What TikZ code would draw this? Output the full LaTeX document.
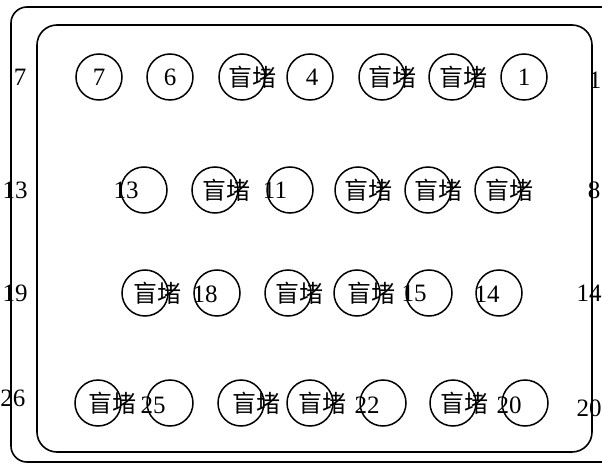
\documentclass[tikz,border=0pt]{standalone}
\usepackage{fontspec}
\setmainfont{Liberation Serif}
\newfontfamily\cjk{Noto Sans CJK SC}
\usepackage{tikz}

\tikzset{
  hole/.style={circle, draw, line width=1.5pt, minimum size=46pt, inner sep=0pt},
  num/.style={font=\fontsize{25}{25}\selectfont, inner sep=0pt},
  blind/.style={font=\cjk\fontsize{24}{24}\selectfont, inner sep=0pt}
}

\begin{document}
\begin{tikzpicture}[x=1pt, y=-1pt]
  \useasboundingbox (0,0) rectangle (602,465);
  \clip (0,0) rectangle (602,465);
  % Frames
  \draw[line width=1.6pt, rounded corners=16pt] (11,7) rectangle (640,462);
  \draw[line width=1.6pt, rounded corners=20pt] (37,25) rectangle (592,452);
  % Row 1
  \foreach \x [count=\i] in {99,170,242,310,382,452,524}{
    \node[hole] (a\i) at (\x,77) {};
  }
  \node[num] (ta1) at (a1) {7};
  \node[num] (ta2) at (a2) {6};
  \node[blind] (ta3) at (252,77) {盲堵};
  \node[num] (ta4) at (312,77) {4};
  \node[blind] (ta5) at (392,77) {盲堵};
  \node[blind] (ta6) at (463,77) {盲堵};
  \node[num] (ta7) at (a7) {1};
  % Row 2
  \foreach \x [count=\i] in {144,215,290,358,428,498}{
    \node[hole] (b\i) at (\x,190) {};
  }
  \node[num] (tb1) at (126,190) {13};
  \node[blind] (tb2) at (226,190) {盲堵};
  \node[num] (tb3) at (275,190) {11};
  \node[blind] (tb4) at (368,190) {盲堵};
  \node[blind] (tb5) at (438,190) {盲堵};
  \node[blind] (tb6) at (509,190) {盲堵};
  % Row 3
  \foreach \x [count=\i] in {145,217,288,357,429,499}{
    \node[hole] (c\i) at (\x,293) {};
  }
  \node[blind] (tc1) at (157,293) {盲堵};
  \node[num] (tc2) at (205,294) {18};
  \node[blind] (tc3) at (299,293) {盲堵};
  \node[blind] (tc4) at (371,293) {盲堵};
  \node[num] (tc5) at (414,293) {15};
  \node[num] (tc6) at (487,294) {14};
  % Row 4
  \foreach \x [count=\i] in {98,170,241,310,383,453,525}{
    \node[hole] (d\i) at (\x,403) {};
  }
  \node[blind] (td1) at (112,403) {盲堵};
  \node[num] (td2) at (153,405) {25};
  \node[blind] (td3) at (256,403) {盲堵};
  \node[blind] (td4) at (322,403) {盲堵};
  \node[num] (td5) at (367,405) {22};
  \node[blind] (td6) at (464,403) {盲堵};
  \node[num] (td7) at (509,405) {20};
  % Side numbers
  \node[num] (l1) at (20,77) {7};
  \node[num] (l2) at (15,190) {13};
  \node[num] (l3) at (15,293) {19};
  \node[num] (l4) at (13,398) {26};
  \node[num] (r1) at (595,80) {1};
  \node[num] (r2) at (594,190) {8};
  \node[num] (r3) at (589,293) {14};
  \node[num] (r4) at (589,408) {20};
\end{tikzpicture}
\end{document}
